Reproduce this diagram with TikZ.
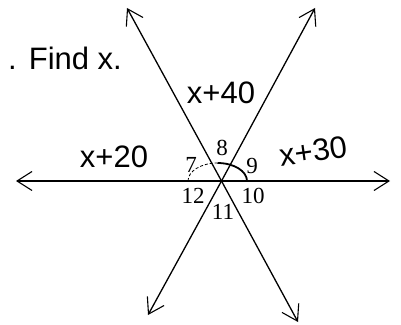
\documentclass[tikz,border=0pt]{standalone}
\usepackage{fontspec}
\setmainfont{Liberation Serif}
\newfontfamily\labfont{Liberation Sans}
\usetikzlibrary{arrows.meta}

\tikzset{
  ray/.style={line width=1.3pt, -{Straight Barb[length=15pt, width=19pt, line width=1.1pt]}},
  explab/.style={font=\labfont\fontsize{31}{34}\selectfont, inner sep=0pt},
  anglab/.style={font=\fontsize{23}{25}\selectfont, inner sep=0pt}
}

\begin{document}
\begin{tikzpicture}[x=1pt, y=1pt]
  \useasboundingbox (0,0) rectangle (401,324);
  % centre and ray ends
  \coordinate (O) at (221.5,143);
  \coordinate (W) at (16,143);
  \coordinate (E) at (390,143);
  \coordinate (NW) at (127,316);
  \coordinate (SE) at (298,2);
  \coordinate (NE) at (315,316);
  \coordinate (SW) at (148,9);
  % three lines through O
  \draw[ray] (O) -- (W);
  \draw[ray] (O) -- (E);
  \draw[ray] (O) -- (NW);
  \draw[ray] (O) -- (SE);
  \draw[ray] (O) -- (NE);
  \draw[ray] (O) -- (SW);
  % arc over angles 7, 8, 9
  \draw[line width=0.8pt, densely dashed] (188,143) arc[start angle=180, end angle=90, x radius=29.5, y radius=18];
  \draw[line width=1.8pt] (217.5,161) arc[start angle=90, end angle=0, x radius=29.5, y radius=18];
  % angle numbers
  \foreach \n/\x/\y in {8/222/176, 7/191/159, 9/252/158, 12/193/128, 10/253/128, 11/223/112}{
    \node[anglab] (a\n) at (\x,\y) {\n};
  }
  % expressions
  \node[explab] (e40) at (221,231) {x+40};
  \node[explab] (e20) at (114,167) {x+20};
  \node[explab, rotate=8] (e30) at (313,173) {x+30};
  % question
  \node[font=\labfont\fontsize{31}{34}\selectfont, anchor=west, inner sep=0pt] (q) at (8,266) {.\hspace{12pt}Find x.};
\end{tikzpicture}
\end{document}
